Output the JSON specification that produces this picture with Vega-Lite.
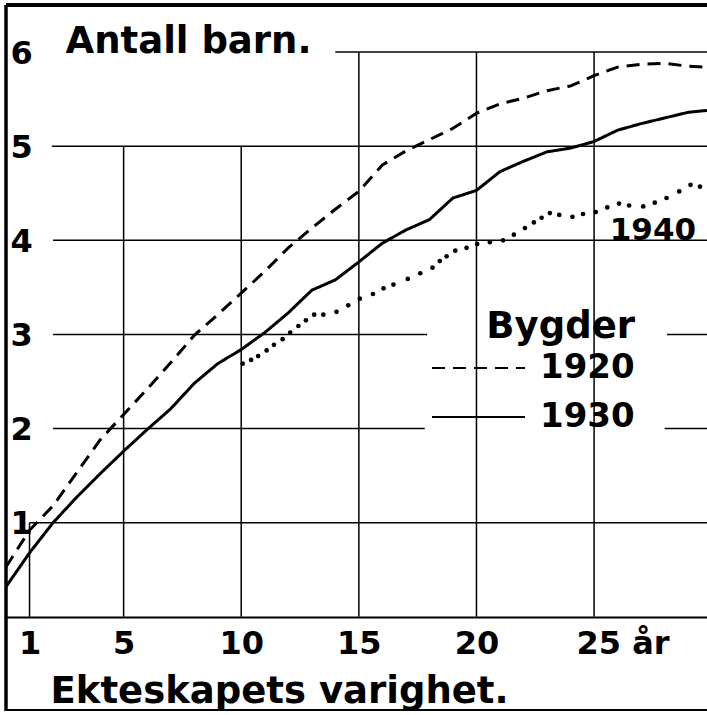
{
  "$schema": "https://vega.github.io/schema/vega-lite/v6.json",
  "width": 701,
  "height": 706,
  "autosize": {"type": "none"},
  "padding": {"left": 6, "top": 5, "right": 0, "bottom": 0},
  "background": "white",
  "config": {
    "font": "DejaVu Sans",
    "view": {"stroke": null},
    "axis": {"labelColor": "black", "titleColor": "black", "labelFont": "DejaVu Sans", "titleFont": "DejaVu Sans", "labelFontWeight": "bold", "titleFontWeight": "bold"},
    "legend": {"labelColor": "black", "titleColor": "black", "labelFont": "DejaVu Sans", "titleFont": "DejaVu Sans", "labelFontWeight": "bold", "titleFontWeight": "bold"}
  },
  "datasets": {
    "grid": [
      {"x": 1, "x2": 1, "y": 0, "y2": 1},
      {"x": 5, "x2": 5, "y": 0, "y2": 5},
      {"x": 10, "x2": 10, "y": 0, "y2": 5},
      {"x": 15, "x2": 15, "y": 0, "y2": 6},
      {"x": 20, "x2": 20, "y": 0, "y2": 6},
      {"x": 25, "x2": 25, "y": 0, "y2": 6},
      {"x": 1, "x2": 29.8, "y": 1, "y2": 1},
      {"x": 2, "x2": 17.8, "y": 2, "y2": 2},
      {"x": 28.0, "x2": 29.8, "y": 2, "y2": 2},
      {"x": 2, "x2": 17.9, "y": 3, "y2": 3},
      {"x": 28.1, "x2": 29.8, "y": 3, "y2": 3},
      {"x": 2, "x2": 29.8, "y": 4, "y2": 4},
      {"x": 1.95, "x2": 29.8, "y": 5, "y2": 5},
      {"x": 14, "x2": 29.8, "y": 6, "y2": 6}
    ],
    "lines": [
      {"series": "1920", "x": 0, "y": 0.53},
      {"series": "1920", "x": 1, "y": 0.92},
      {"series": "1920", "x": 2, "y": 1.18},
      {"series": "1920", "x": 3, "y": 1.53},
      {"series": "1920", "x": 4, "y": 1.88},
      {"series": "1920", "x": 5, "y": 2.15},
      {"series": "1920", "x": 6, "y": 2.42},
      {"series": "1920", "x": 7, "y": 2.70},
      {"series": "1920", "x": 8, "y": 2.99},
      {"series": "1920", "x": 9, "y": 3.21},
      {"series": "1920", "x": 10, "y": 3.44},
      {"series": "1920", "x": 11, "y": 3.67},
      {"series": "1920", "x": 12, "y": 3.92},
      {"series": "1920", "x": 13, "y": 4.13},
      {"series": "1920", "x": 14, "y": 4.33},
      {"series": "1920", "x": 15, "y": 4.52},
      {"series": "1920", "x": 16, "y": 4.80},
      {"series": "1920", "x": 17, "y": 4.95},
      {"series": "1920", "x": 18, "y": 5.07},
      {"series": "1920", "x": 19, "y": 5.19},
      {"series": "1920", "x": 20, "y": 5.35},
      {"series": "1920", "x": 21, "y": 5.45},
      {"series": "1920", "x": 22, "y": 5.51},
      {"series": "1920", "x": 23, "y": 5.59},
      {"series": "1920", "x": 24, "y": 5.64},
      {"series": "1920", "x": 25, "y": 5.75},
      {"series": "1920", "x": 26, "y": 5.84},
      {"series": "1920", "x": 27, "y": 5.87},
      {"series": "1920", "x": 28, "y": 5.88},
      {"series": "1920", "x": 29, "y": 5.85},
      {"series": "1920", "x": 29.8, "y": 5.84},
      {"series": "1930", "x": 0, "y": 0.32},
      {"series": "1930", "x": 1, "y": 0.68},
      {"series": "1930", "x": 2, "y": 1.0},
      {"series": "1930", "x": 3, "y": 1.27},
      {"series": "1930", "x": 4, "y": 1.52},
      {"series": "1930", "x": 5, "y": 1.76},
      {"series": "1930", "x": 6, "y": 1.99},
      {"series": "1930", "x": 7, "y": 2.21},
      {"series": "1930", "x": 8, "y": 2.48},
      {"series": "1930", "x": 9, "y": 2.69},
      {"series": "1930", "x": 10, "y": 2.84},
      {"series": "1930", "x": 11, "y": 3.02},
      {"series": "1930", "x": 12, "y": 3.23},
      {"series": "1930", "x": 13, "y": 3.47},
      {"series": "1930", "x": 14, "y": 3.58},
      {"series": "1930", "x": 15, "y": 3.77},
      {"series": "1930", "x": 16, "y": 3.97},
      {"series": "1930", "x": 17, "y": 4.11},
      {"series": "1930", "x": 18, "y": 4.22},
      {"series": "1930", "x": 19, "y": 4.45},
      {"series": "1930", "x": 20, "y": 4.53},
      {"series": "1930", "x": 21, "y": 4.73},
      {"series": "1930", "x": 22, "y": 4.84},
      {"series": "1930", "x": 23, "y": 4.94},
      {"series": "1930", "x": 24, "y": 4.98},
      {"series": "1930", "x": 25, "y": 5.05},
      {"series": "1930", "x": 26, "y": 5.17},
      {"series": "1930", "x": 27, "y": 5.24},
      {"series": "1930", "x": 28, "y": 5.30},
      {"series": "1930", "x": 29, "y": 5.36},
      {"series": "1930", "x": 29.8, "y": 5.38}
    ],
    "dots": [
      {"series": "1940", "x": 10.06, "y": 2.69},
      {"series": "1940", "x": 10.42, "y": 2.73},
      {"series": "1940", "x": 10.72, "y": 2.77},
      {"series": "1940", "x": 11.08, "y": 2.83},
      {"series": "1940", "x": 11.39, "y": 2.89},
      {"series": "1940", "x": 11.76, "y": 2.95},
      {"series": "1940", "x": 12.08, "y": 3.02},
      {"series": "1940", "x": 12.43, "y": 3.09},
      {"series": "1940", "x": 12.75, "y": 3.15},
      {"series": "1940", "x": 13.1, "y": 3.21},
      {"series": "1940", "x": 13.49, "y": 3.21},
      {"series": "1940", "x": 14.05, "y": 3.24},
      {"series": "1940", "x": 14.55, "y": 3.31},
      {"series": "1940", "x": 15.04, "y": 3.38},
      {"series": "1940", "x": 15.6, "y": 3.43},
      {"series": "1940", "x": 16.05, "y": 3.49},
      {"series": "1940", "x": 16.47, "y": 3.53},
      {"series": "1940", "x": 17.08, "y": 3.59},
      {"series": "1940", "x": 17.61, "y": 3.65},
      {"series": "1940", "x": 18.13, "y": 3.71},
      {"series": "1940", "x": 18.44, "y": 3.78},
      {"series": "1940", "x": 18.73, "y": 3.83},
      {"series": "1940", "x": 19.1, "y": 3.89},
      {"series": "1940", "x": 19.58, "y": 3.92},
      {"series": "1940", "x": 20.03, "y": 3.96},
      {"series": "1940", "x": 20.57, "y": 3.98},
      {"series": "1940", "x": 21.13, "y": 4.0},
      {"series": "1940", "x": 21.59, "y": 4.06},
      {"series": "1940", "x": 22.06, "y": 4.13},
      {"series": "1940", "x": 22.44, "y": 4.19},
      {"series": "1940", "x": 22.77, "y": 4.24},
      {"series": "1940", "x": 23.12, "y": 4.29},
      {"series": "1940", "x": 23.52, "y": 4.27},
      {"series": "1940", "x": 24.08, "y": 4.25},
      {"series": "1940", "x": 24.53, "y": 4.28},
      {"series": "1940", "x": 25.07, "y": 4.30},
      {"series": "1940", "x": 25.56, "y": 4.35},
      {"series": "1940", "x": 26.06, "y": 4.39},
      {"series": "1940", "x": 26.49, "y": 4.37},
      {"series": "1940", "x": 27.09, "y": 4.36},
      {"series": "1940", "x": 27.58, "y": 4.40},
      {"series": "1940", "x": 28.08, "y": 4.45},
      {"series": "1940", "x": 28.62, "y": 4.52},
      {"series": "1940", "x": 29.1, "y": 4.59},
      {"series": "1940", "x": 29.5, "y": 4.57}
    ],
    "labels": [
      {"series": "1940", "x": 27.5, "y": 4.0, "text": "1940"}
    ],
    "frame": [
      {"edge": "top"}
    ]
  },
  "layer": [
    {
      "data": {"name": "grid"},
      "mark": {"type": "rule", "color": "black", "strokeWidth": 1.5},
      "encoding": {
        "x": {
          "field": "x", "type": "quantitative",
          "scale": {"domain": [0, 29.8], "nice": false, "zero": false},
          "axis": {
            "orient": "bottom", "offset": -94, "values": [1, 5, 10, 15, 20, 25],
            "grid": false, "ticks": false, "tickSize": 0,
            "domain": true, "domainColor": "black", "domainWidth": 2,
            "labelFontSize": 32, "labelPadding": 11, "labelBaseline": "top",
            "labelOverlap": false, "labelFlush": false, "labelBound": false,
            "labelExpr": "datum.value == 25 ? '25 år' : datum.label",
            "labelAlign": {"condition": {"test": "datum.value == 25", "value": "left"}, "value": "center"},
            "labelOffset": {"condition": {"test": "datum.value == 25", "value": -18}, "value": 0},
            "title": "Ekteskapets varighet.", "titleFontSize": 37,
            "titleAnchor": "start", "titleAlign": "left", "titleBaseline": "alphabetic",
            "titleX": 44, "titleY": 85
          }
        },
        "x2": {"field": "x2"},
        "y": {
          "field": "y", "type": "quantitative",
          "scale": {"domain": [-1, 6.5], "nice": false, "zero": false},
          "axis": {
            "orient": "left", "values": [1, 2, 3, 4, 5, 6], "format": "d",
            "grid": false, "ticks": false, "tickSize": 0, "domain": false,
            "labelFontSize": 32, "labelAlign": "center", "labelPadding": -15,
            "labelBaseline": "middle", "labelOffset": 1,
            "labelOverlap": false, "labelFlush": false, "labelBound": false,
            "title": "Antall barn.", "titleFontSize": 37, "titleAngle": 0,
            "titleAlign": "left", "titleBaseline": "alphabetic",
            "titleX": 59, "titleY": 47
          }
        },
        "y2": {"field": "y2"}
      }
    },
    {
      "data": {"name": "frame"},
      "mark": {"type": "rule", "color": "black", "strokeWidth": 4},
      "encoding": {"y": {"datum": 6.5}}
    },
    {
      "data": {"name": "frame"},
      "mark": {"type": "rule", "color": "black", "strokeWidth": 4},
      "encoding": {"y": {"datum": -1}}
    },
    {
      "data": {"name": "frame"},
      "mark": {"type": "rule", "color": "black", "strokeWidth": 3.5},
      "encoding": {"x": {"datum": 0}}
    },
    {
      "data": {"name": "lines"},
      "mark": {"type": "line", "color": "black", "strokeWidth": 3, "strokeJoin": "round"},
      "encoding": {
        "x": {"field": "x", "type": "quantitative"},
        "y": {"field": "y", "type": "quantitative"},
        "strokeDash": {
          "field": "series", "type": "nominal",
          "scale": {"domain": ["1920", "1930"], "range": [[13, 8], [1, 0]]},
          "legend": {
            "orient": "none", "legendX": 425, "legendY": 304, "padding": 0,
            "title": "Bygder", "titleFontSize": 37, "titleAnchor": "end", "titlePadding": 2,
            "labelFontSize": 34, "labelOffset": 14, "labelBaseline": "middle",
            "symbolType": "stroke", "symbolSize": 8649, "symbolStrokeWidth": 2,
            "symbolStrokeColor": "black", "clipHeight": 40, "rowPadding": 9,
            "direction": "vertical"
          }
        }
      }
    },
    {
      "data": {"name": "dots"},
      "mark": {"type": "circle", "color": "black", "size": 22, "opacity": 1},
      "encoding": {
        "x": {"field": "x", "type": "quantitative"},
        "y": {"field": "y", "type": "quantitative"}
      }
    },
    {
      "data": {"name": "labels"},
      "mark": {"type": "text", "color": "black", "fontSize": 31, "fontWeight": "bold", "font": "DejaVu Sans", "align": "center", "baseline": "alphabetic"},
      "encoding": {
        "x": {"field": "x", "type": "quantitative"},
        "y": {"field": "y", "type": "quantitative"},
        "text": {"field": "text"}
      }
    }
  ]
}
